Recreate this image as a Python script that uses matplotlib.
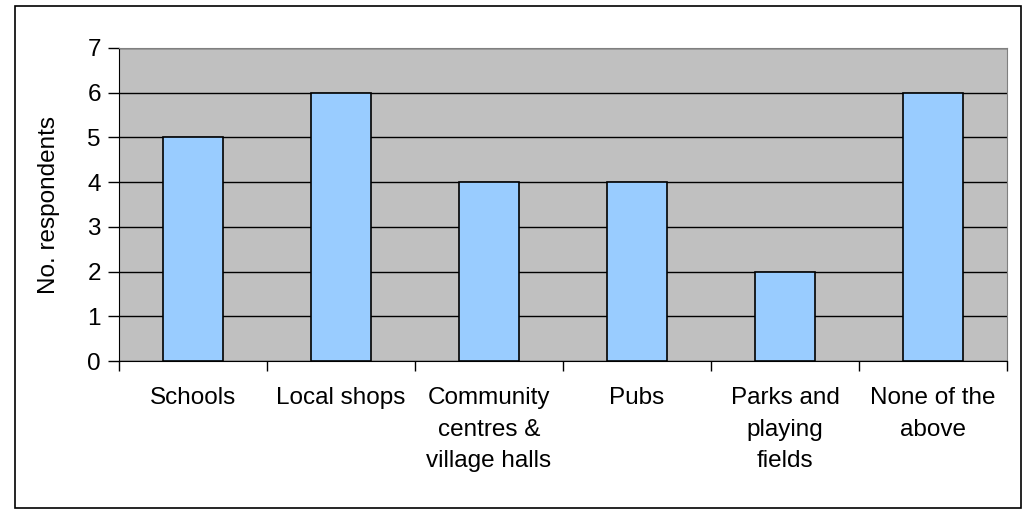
import matplotlib.pyplot as plt
from matplotlib.patches import Rectangle

categories = ['Schools', 'Local shops', 'Community\ncentres &\nvillage halls', 'Pubs',
              'Parks and\nplaying\nfields', 'None of the\nabove']
respondents = [5, 6, 4, 4, 2, 6]

plt.rcParams['font.family'] = ['Liberation Sans', 'DejaVu Sans']

fig = plt.figure(figsize=(10.23, 5.09), dpi=100)
ax = fig.add_axes([119 / 1023, 1 - 361 / 509, 888 / 1023, 313 / 509])

x = range(len(categories))
ax.set_facecolor('#C0C0C0')
ax.bar(x, respondents, width=0.4, color='#99CCFF', edgecolor='black', linewidth=1.2, zorder=3)

ax.set_xlim(-0.5, len(categories) - 0.5)
ax.set_ylim(0, 7)
ax.set_yticks(range(0, 8))
ax.yaxis.grid(True, color='black', linewidth=1)
ax.set_axisbelow(True)

ax.set_xticks(list(x))
ax.set_xticklabels(categories, fontsize=17.5, linespacing=1.55, va='top')
ax.tick_params(axis='x', length=0, pad=19)
ax.set_xticks([i - 0.5 for i in range(len(categories) + 1)], minor=True)
ax.tick_params(axis='x', which='minor', length=7, width=1, direction='out')
ax.tick_params(axis='y', labelsize=17.5, length=8, width=1, pad=5)

ax.set_ylabel('No. respondents', fontsize=17.5, labelpad=20)

for s in ['top', 'right']:
    ax.spines[s].set_color('#808080')
for s in ['left', 'bottom']:
    ax.spines[s].set_color('black')

fig.patches.append(Rectangle((15 / 1023, 1 / 509), 1006 / 1023, 502 / 509,
                             transform=fig.transFigure, fill=False,
                             edgecolor='black', linewidth=1.2))

fig.savefig('out.png', dpi=100)
